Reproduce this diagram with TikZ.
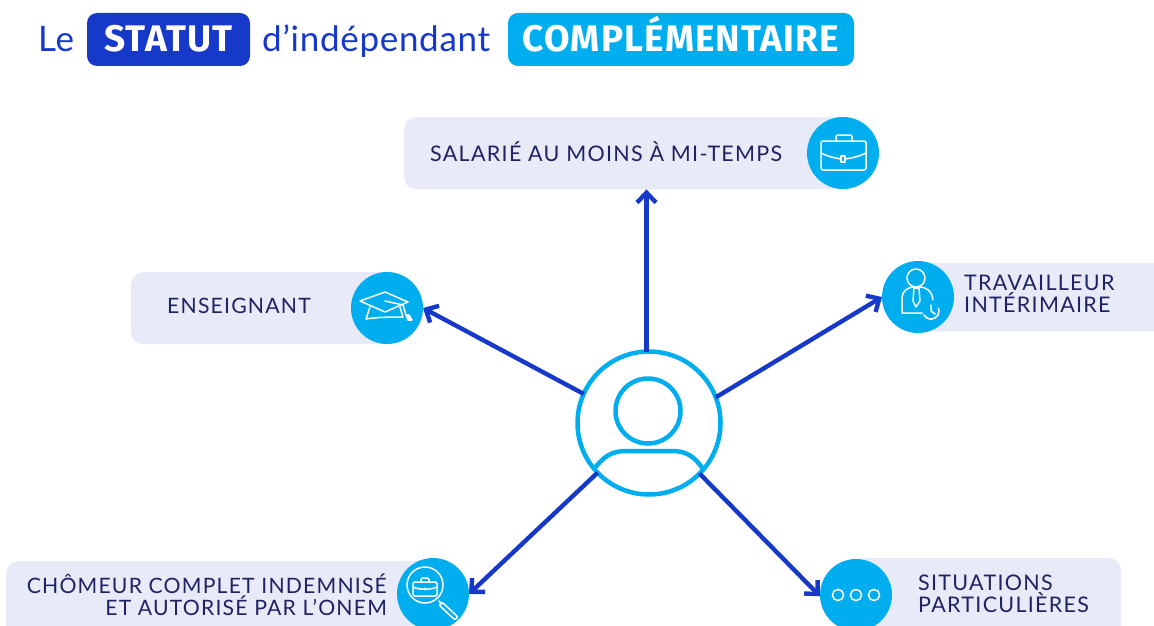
\documentclass[tikz,border=0pt]{standalone}
\usepackage{fontspec}
\usetikzlibrary{arrows.meta}
\setmainfont{Lato}
\newfontfamily\labfont[LetterSpace=6]{Lato}
\newfontfamily\labtight[LetterSpace=5.6]{Lato}
\newfontfamily\titlefont[LetterSpace=2]{Lato}
\newfontfamily\headfont[LetterSpace=3]{Fira Sans}
\definecolor{royal}{HTML}{1739C9}
\definecolor{sky}{HTML}{00AEEF}
\definecolor{pale}{HTML}{E8EAF8}
\definecolor{navy}{HTML}{1F2263}
\tikzset{
  x=1pt,y=-1pt,
  titlebox/.style={rounded corners=10pt,minimum height=53pt,inner sep=0pt,fill=#1},
  titlecaps/.style={inner sep=0pt,text=white,anchor=base,font=\headfont\fontsize{37}{40}\selectfont\bfseries},
  titletext/.style={inner sep=0pt,text=royal,font=\titlefont\fontsize{35}{40}\selectfont},
  band/.style={fill=pale,rounded corners=12pt,inner sep=0pt,anchor=north west},
  disc/.style={circle,fill=sky,minimum size=72pt,inner sep=0pt,outer sep=0pt},
  hubring/.style={circle,draw=sky,line width=4.5pt,minimum size=143pt,inner sep=0pt,outer sep=0pt,fill=white},
  lab/.style={inner sep=0pt,text=navy,align=left,font=\labfont\fontsize{21.5}{21.5}\selectfont},
  labs/.style={inner sep=0pt,text=navy,font=\labtight\fontsize{21.2}{21.5}\selectfont},
  link/.style={draw=royal,line width=4.4pt,-{Straight Barb[length=10pt,width=19pt,line width=4.4pt]}},
  glyph/.style={draw=white,line width=1.5pt,line join=round,line cap=round,fill=none},
}
\begin{document}
\begin{tikzpicture}
\useasboundingbox (0,0) rectangle (1154,626);
\clip (0,0) rectangle (1154,626);
% title
\node[titletext,anchor=base west] (tle) at (38,52) {Le};
\node[titlebox=royal,minimum width=163pt] (tstatut) at (168.5,39.5) {};
\node[titlecaps] (tstatutlab) at (168.5,52) {STATUT};
\node[titletext,anchor=base west] (tind) at (262,52) {d’indépendant};
\node[titlebox=sky,minimum width=346pt] (tcomp) at (681,39.5) {};
\node[titlecaps] (tcomplab) at (681,52) {COMPLÉMENTAIRE};
% bands
\node[band,minimum width=445pt,minimum height=72pt] (b1) at (404,117) {};
\node[band,minimum width=260pt,minimum height=72pt] (b2) at (131,272) {};
\node[band,minimum width=280pt,minimum height=68pt] (b3) at (900,263) {};
\node[band,minimum width=425pt,minimum height=80pt] (b4) at (6,561) {};
\node[band,minimum width=271pt,minimum height=80pt] (b5) at (850,558) {};
% discs
\node[disc] (d1) at (843,153) {};
\node[disc] (d2) at (387,308) {};
\node[disc] (d3) at (918,297) {};
\node[disc] (d4) at (433,594) {};
\node[disc] (d5) at (856,595) {};
% hub
\node[hubring] (hub) at (649,423) {};
% connectors
\draw[link] (hub.92) -- (hub.92 |- b1.south);
\draw[link] (hub.156) -- (d2.0);
\draw[link] (hub.21) -- (d3.180);
\draw[link] (hub.224) -- (d4.0);
\draw[link] (hub.315) -- (d5.182);
% hub person
\node[circle,draw=sky,line width=4.5pt,minimum size=65pt,inner sep=0pt] (head) at (648,411) {};
\draw[draw=sky,line width=4.5pt] (594,469) .. controls (604,456) and (612,451) .. (626,451) -- (672,451) .. controls (686,451) and (694,456) .. (703,469);
% labels
\node[lab,anchor=west] (l1) at (430,152) {SALARIÉ AU MOINS À MI-TEMPS};
\node[labs,anchor=west] (l2) at (167,306) {ENSEIGNANT};
\node[lab,anchor=west] (l3) at (964,294) {TRAVAILLEUR\\INTÉRIMAIRE};
\node[labs,anchor=east,align=right] (l4) at (387,595) {CHÔMEUR COMPLET INDEMNISÉ\\ET AUTORISÉ PAR L’ONEM};
\node[lab,anchor=west] (l5) at (918,594) {SITUATIONS\\PARTICULIÈRES};
% briefcase
\draw[glyph,rounded corners=2pt] (821,141) rectangle (866,170);
\draw[glyph,rounded corners=2pt] (836,141) -- (836,135) -- (852,135) -- (852,141);
\draw[glyph] (821,153) .. controls (829,157) and (835,158) .. (841,159);
\draw[glyph] (845,159) .. controls (852,158) and (858,157) .. (866,153);
\draw[glyph] (841,156) rectangle (845,162);
% cap
\draw[glyph] (360,301) -- (385,292) -- (408,302) -- (385,312) -- cycle;
\draw[glyph] (370,307) -- (366,319) .. controls (378,317) and (392,317) .. (403,317) -- (400,307);
\draw[glyph] (385,301) -- (403,305) -- (406,315);
\draw[glyph,fill=white] (406,315) -- (409,315) -- (412,320) -- (408,320) -- cycle;
% worker
\draw[glyph] (916,278) circle (9);
\draw[glyph] (922,313) -- (902,313) -- (902,298) .. controls (902,291) and (908,287) .. (914,287) -- (920,287) .. controls (926,287) and (932,291) .. (933,300);
\draw[glyph] (914,288) -- (919,288) -- (920,301) -- (916,307) -- (913,301) -- cycle;
\draw[glyph] (924,315) arc[start angle=150,end angle=-20,radius=8];
\draw[glyph,dash pattern=on 1.5pt off 3pt] (938.5,314) arc[start angle=20,end angle=140,radius=8];
\draw[glyph] (931,305) -- (931,311) -- (935,314);
% magnifier
\draw[glyph] (425,585) circle (18);
\draw[glyph] (439,601) -- (442,604);
\draw[glyph,rounded corners=2pt] (442,602) -- (458,617) -- (455,620) -- (439,605) -- cycle;
\draw[glyph,rounded corners=1.5pt] (413,582) rectangle (437,596);
\draw[glyph,rounded corners=1.5pt] (421,582) -- (421,578) -- (429,578) -- (429,582);
\draw[glyph] (413,587) .. controls (419,590) and (431,590) .. (437,587);
\fill[white] (425,589) circle (1.6);
% dots
\draw[glyph] (838,595) circle (5.6);
\draw[glyph] (856,595) circle (5.6);
\draw[glyph] (874,595) circle (5.6);
\end{tikzpicture}
\end{document}
